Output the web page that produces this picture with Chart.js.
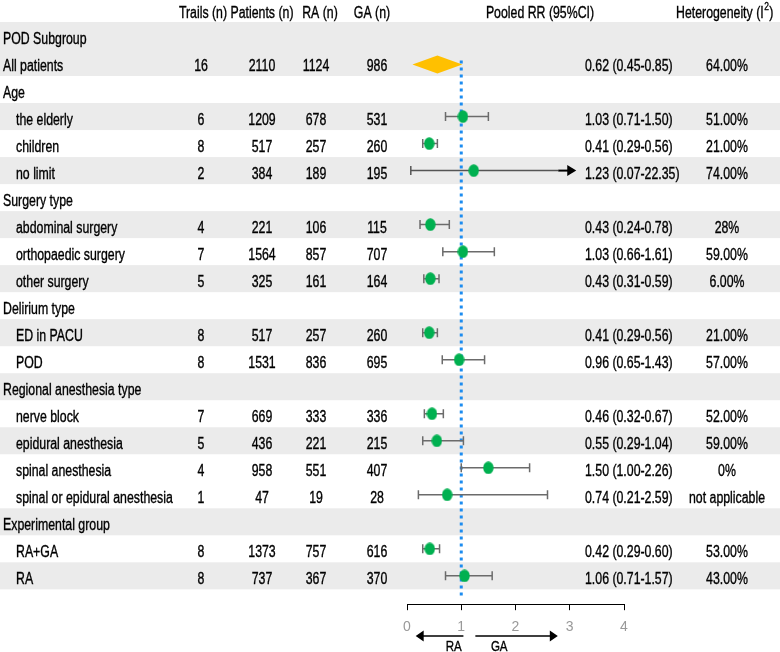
<!DOCTYPE html>
<html>
<head>
<meta charset="utf-8">
<script src="https://cdn.jsdelivr.net/npm/chart.js@4.4.1/dist/chart.umd.min.js"></script>
<style>
  html, body { margin: 0; padding: 0; background: #fff; }
  canvas { display: block; }
</style>
</head>
<body>
<canvas id="myChart" width="780" height="652"></canvas>
<script>
// rows of the table, top to bottom
const rowLabels = ['POD Subgroup', 'All patients', 'Age', 'the elderly', 'children', 'no limit',
    'Surgery type', 'abdominal surgery', 'orthopaedic surgery', 'other surgery',
    'Delirium type', 'ED in PACU', 'POD', 'Regional anesthesia type', 'nerve block',
    'epidural anesthesia', 'spinal anesthesia', 'spinal or epidural anesthesia',
    'Experimental group', 'RA+GA', 'RA'];
const groupRows = [0, 1, 2, 6, 10, 13, 18];

const trials   = [null, 16, null, 6, 8, 2, null, 4, 7, 5, null, 8, 8, null, 7, 5, 4, 1, null, 8, 8];
const patients = [null, 2110, null, 1209, 517, 384, null, 221, 1564, 325, null, 517, 1531, null, 669, 436, 958, 47, null, 1373, 737];
const raN      = [null, 1124, null, 678, 257, 189, null, 106, 857, 161, null, 257, 836, null, 333, 221, 551, 19, null, 757, 367];
const gaN      = [null, 986, null, 531, 260, 195, null, 115, 707, 164, null, 260, 695, null, 336, 215, 407, 28, null, 616, 370];
const rr       = [null, 0.62, null, 1.03, 0.41, 1.23, null, 0.43, 1.03, 0.43, null, 0.41, 0.96, null, 0.46, 0.55, 1.50, 0.74, null, 0.42, 1.06];
const rrLow    = [null, 0.45, null, 0.71, 0.29, 0.07, null, 0.24, 0.66, 0.31, null, 0.29, 0.65, null, 0.32, 0.29, 1.00, 0.21, null, 0.29, 0.71];
const rrHigh   = [null, 0.85, null, 1.50, 0.56, 22.35, null, 0.78, 1.61, 0.59, null, 0.56, 1.43, null, 0.67, 1.04, 2.26, 2.59, null, 0.60, 1.57];
const hetero   = [null, '64.00%', null, '51.00%', '21.00%', '74.00%', null, '28%', '59.00%', '6.00%', null, '21.00%', '57.00%', null, '52.00%', '59.00%', '0%', 'not applicable', null, '53.00%', '43.00%'];

// pooled estimate is drawn as a diamond (as placed in the figure)
const pooledRow = 1;
const pooledDiamond = [0.10, 0.56, 1.02];
const nullValue = 1;
const ciClip = 3.12;   // intervals beyond this get an arrow

const xTicks = [0, 1, 2, 3, 4];
const shadedRows = [0, 1, 3, 5, 7, 9, 11, 13, 15, 18, 20];

const FONT = '"Liberation Sans", Arial, sans-serif';
const SQUEEZE = 0.77;  // the figure uses a condensed face

// condensed text: squeeze horizontally around the anchor
function text(ctx, s, x, y, align, size) {
    ctx.save();
    ctx.font = (size || 16) + 'px ' + FONT;
    ctx.textAlign = align || 'left';
    ctx.fillStyle = '#000';
    ctx.strokeStyle = '#000';
    ctx.lineWidth = 0.35;
    ctx.translate(x, y);
    ctx.scale(SQUEEZE, 1);
    ctx.fillText(s, 0, 0);
    ctx.strokeText(s, 0, 0);
    var w = ctx.measureText(s).width * SQUEEZE;
    ctx.restore();
    return w;
}

function ellipseMarker() {
    var c = document.createElement('canvas');
    c.width = 11; c.height = 13;
    var g = c.getContext('2d');
    g.fillStyle = '#00b050';
    g.beginPath();
    g.ellipse(5.5, 6.5, 5.2, 6.3, 0, 0, Math.PI * 2);
    g.fill();
    return c;
}

var points = [];
rr.forEach(function(v, i) {
    if (v !== null && i !== pooledRow) points.push({ x: v, y: i });
});

const forestPlugin = {
    id: 'forestTable',
    beforeDraw: function(chart) {
        var ctx = chart.ctx, y = chart.scales.y;
        ctx.save();
        ctx.fillStyle = '#fff';
        ctx.fillRect(0, 0, chart.width, chart.height);
        ctx.fillStyle = '#ebebeb';
        shadedRows.forEach(function(i) {
            var t = y.getPixelForValue(i - 0.5), b = y.getPixelForValue(i + 0.5);
            ctx.fillRect(0, t, chart.width, b - t);
        });
        ctx.restore();
    },
    beforeDatasetsDraw: function(chart) {
        var ctx = chart.ctx, x = chart.scales.x, y = chart.scales.y;
        ctx.save();

        // reference line at RR = 1
        var xr = x.getPixelForValue(nullValue);
        ctx.strokeStyle = '#1c8cf0';
        ctx.lineWidth = 3;
        ctx.setLineDash([3, 4]);
        ctx.beginPath();
        ctx.moveTo(xr, y.getPixelForValue(pooledRow) - 2);
        ctx.lineTo(xr, chart.chartArea.bottom - 6);
        ctx.stroke();
        ctx.setLineDash([]);

        // confidence intervals
        rr.forEach(function(v, i) {
            if (v === null || i === pooledRow) return;
            var py = y.getPixelForValue(i);
            var x0 = x.getPixelForValue(rrLow[i]);
            var clipped = rrHigh[i] > ciClip;
            var x1 = x.getPixelForValue(clipped ? ciClip : rrHigh[i]);
            ctx.strokeStyle = clipped ? '#555' : '#6b6b6b';
            ctx.lineWidth = 1.5;
            ctx.beginPath();
            ctx.moveTo(x0, py - 4.5); ctx.lineTo(x0, py + 4.5);
            ctx.moveTo(x0, py);
            ctx.lineTo(clipped ? x1 - 18 : x1, py);
            if (!clipped) { ctx.moveTo(x1, py - 4.5); ctx.lineTo(x1, py + 4.5); }
            ctx.stroke();
            if (clipped) {
                ctx.strokeStyle = '#000';
                ctx.lineWidth = 2;
                ctx.beginPath();
                ctx.moveTo(x1 - 18, py); ctx.lineTo(x1 - 7, py);
                ctx.stroke();
                ctx.fillStyle = '#000';
                ctx.beginPath();
                ctx.moveTo(x1, py); ctx.lineTo(x1 - 9, py - 5.5); ctx.lineTo(x1 - 9, py + 5.5);
                ctx.closePath();
                ctx.fill();
            }
        });

        // pooled diamond
        var dy = y.getPixelForValue(pooledRow) + 2;
        ctx.fillStyle = '#ffc000';
        ctx.beginPath();
        ctx.moveTo(x.getPixelForValue(pooledDiamond[0]), dy);
        ctx.lineTo(x.getPixelForValue(pooledDiamond[1]), dy - 9);
        ctx.lineTo(x.getPixelForValue(pooledDiamond[2]), dy);
        ctx.lineTo(x.getPixelForValue(pooledDiamond[1]), dy + 9);
        ctx.closePath();
        ctx.fill();
        ctx.restore();
    },
    afterDraw: function(chart) {
        var ctx = chart.ctx, x = chart.scales.x, y = chart.scales.y;
        ctx.save();
        ctx.textBaseline = 'alphabetic';

        // header
        text(ctx, 'Trails (n)', 203, 18, 'center');
        text(ctx, 'Patients (n)', 262, 18, 'center');
        text(ctx, 'RA (n)', 320, 18, 'center');
        text(ctx, 'GA (n)', 372, 18, 'center');
        text(ctx, 'Pooled RR (95%CI)', 540, 18, 'center');
        var hx = 676;
        hx += text(ctx, 'Heterogeneity (I', hx, 18);
        hx += text(ctx, '2', hx + 0.5, 10, 'left', 11) + 1;
        text(ctx, ')', hx, 18);

        // body
        rowLabels.forEach(function(lab, i) {
            var by = y.getPixelForValue(i) + 8.5;
            text(ctx, lab, groupRows.indexOf(i) >= 0 ? 3 : 16, by);
            if (trials[i] === null) return;
            text(ctx, String(trials[i]), 201, by, 'center');
            text(ctx, String(patients[i]), 262, by, 'center');
            text(ctx, String(raN[i]), 316, by, 'center');
            text(ctx, String(gaN[i]), 377, by, 'center');
            text(ctx, hetero[i], 727, by, 'center');
            text(ctx, rr[i].toFixed(2) + ' (' + rrLow[i].toFixed(2) + '-' + rrHigh[i].toFixed(2) + ')', 585, by);
        });

        // RA / GA direction arrows under the axis
        var ay = 636;
        ctx.strokeStyle = '#000';
        ctx.fillStyle = '#000';
        ctx.lineWidth = 1.5;
        var la = x.getPixelForValue(1.04), lt = x.getPixelForValue(0.16);
        var ra = x.getPixelForValue(1.26), rt = x.getPixelForValue(2.78);
        ctx.beginPath();
        ctx.moveTo(la, ay); ctx.lineTo(lt + 6, ay);
        ctx.moveTo(ra, ay); ctx.lineTo(rt - 6, ay);
        ctx.stroke();
        ctx.beginPath();
        ctx.moveTo(lt, ay); ctx.lineTo(lt + 8, ay - 5.5); ctx.lineTo(lt + 8, ay + 5.5); ctx.closePath();
        ctx.moveTo(rt, ay); ctx.lineTo(rt - 8, ay - 5.5); ctx.lineTo(rt - 8, ay + 5.5); ctx.closePath();
        ctx.fill();
        text(ctx, 'RA', x.getPixelForValue(0.86), 651, 'center', 15);
        text(ctx, 'GA', x.getPixelForValue(1.70), 651, 'center', 15);
        ctx.restore();
    }
};

var ctx = document.getElementById('myChart').getContext('2d');
new Chart(ctx, {
    type: 'scatter',
    data: {
        datasets: [{
            data: points,
            pointStyle: ellipseMarker(),
            pointRadius: 6,
            pointHoverRadius: 6
        }]
    },
    options: {
        responsive: false,
        animation: false,
        devicePixelRatio: 1,
        layout: { padding: { left: 407, right: 156, top: 22, bottom: 7 } },
        scales: {
            x: {
                type: 'linear',
                min: xTicks[0],
                max: xTicks[xTicks.length - 1],
                afterBuildTicks: function(scale) {
                    scale.ticks = xTicks.map(function(v) { return { value: v }; });
                },
                grid: { drawOnChartArea: false, drawTicks: true, tickLength: 6, color: '#000', lineWidth: 1 },
                border: { display: true, color: '#000', width: 1 },
                ticks: { color: '#999', padding: 9, font: { family: FONT, size: 14 } }
            },
            y: {
                type: 'linear',
                display: false,
                reverse: true,
                min: -0.5,
                max: 21.05
            }
        },
        plugins: {
            legend: { display: false },
            tooltip: { enabled: false }
        }
    },
    plugins: [forestPlugin]
});
</script>
</body>
</html>
